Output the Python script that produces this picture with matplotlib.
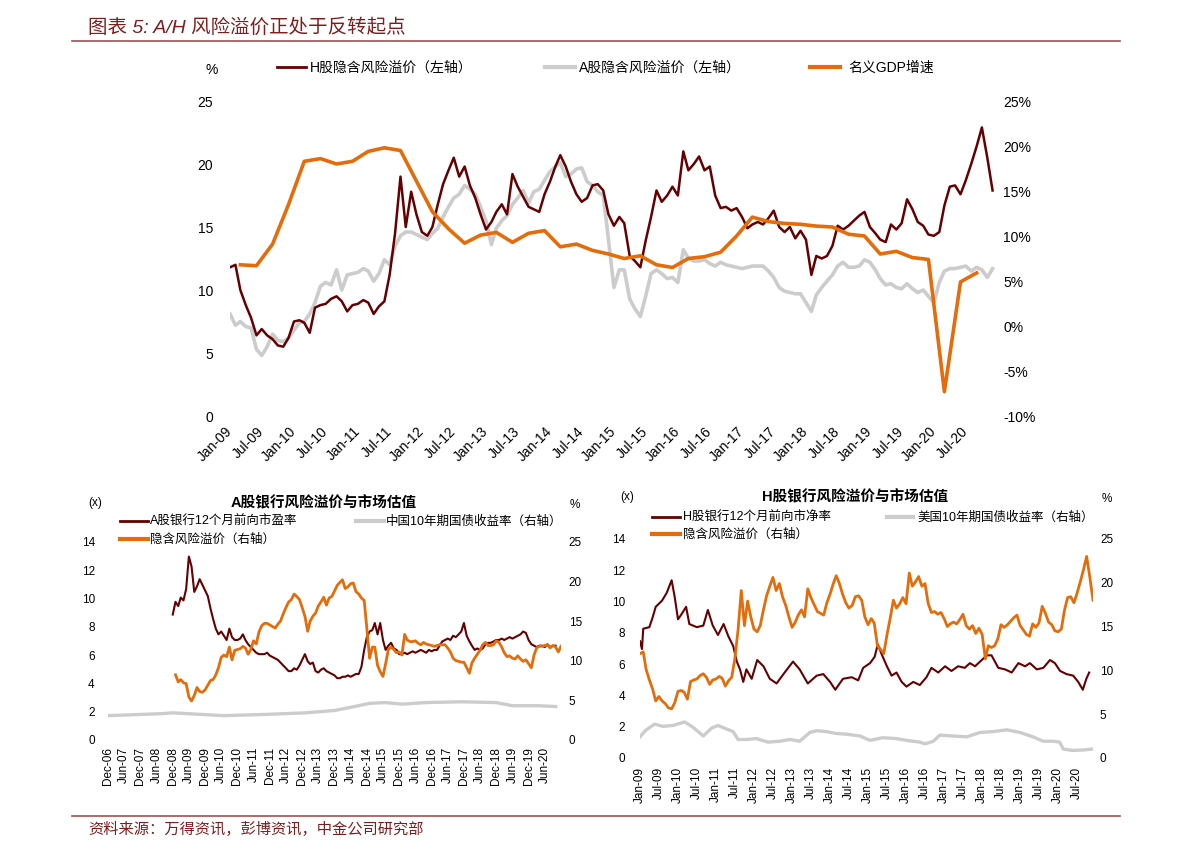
import matplotlib
matplotlib.use("Agg")
import matplotlib.pyplot as plt
from matplotlib.lines import Line2D
import pandas as pd

plt.rcParams["font.family"] = ["Liberation Sans", "Noto Sans CJK SC"]

# ---- data ----
# monthly, Jan-2009 .. Dec-2020 (top chart, reused in the two lower charts)
h_premium = [
    11.8, 12.0, 10.0, 8.8, 7.8, 6.4, 6.9, 6.4, 6.1, 5.6,
    5.5, 6.2, 7.5, 7.6, 7.4, 6.6, 8.6, 8.8, 8.9, 9.3,
    9.5, 9.1, 8.3, 8.8, 8.9, 9.2, 9.0, 8.1, 8.7, 9.1,
    11.2, 14.5, 19.0, 15.0, 17.8, 16.0, 14.6, 14.3, 15.0, 16.8,
    18.4, 19.5, 20.5, 19.0, 19.8, 18.3, 17.3, 16.0, 14.8, 15.4,
    16.2, 16.8, 16.0, 19.2, 18.2, 17.4, 16.6, 16.4, 16.2, 17.6,
    18.6, 19.8, 20.7, 19.8, 18.6, 17.6, 17.0, 17.3, 18.3, 18.4,
    17.9, 16.0, 15.1, 15.8, 15.3, 12.7, 12.3, 11.8, 13.9, 15.8,
    17.9, 17.0, 17.5, 18.2, 17.5, 21.0, 19.5, 20.0, 20.6, 19.5,
    19.8, 17.5, 16.5, 16.6, 16.3, 16.5, 15.8, 14.9, 15.2, 15.4,
    15.2, 15.7, 16.3, 15.0, 14.6, 15.0, 14.1, 14.7, 14.0, 11.2,
    12.7, 12.5, 12.7, 13.5, 15.1, 14.8, 15.1, 15.5, 15.9, 16.2,
    15.0, 14.5, 14.0, 13.8, 15.2, 14.8, 15.3, 17.2, 16.4, 15.4,
    15.1, 14.4, 14.3, 14.6, 16.7, 18.2, 18.3, 17.6, 18.7, 20.0,
    21.4, 22.9, 20.5, 17.9,
]
a_premium = [
    8.1, 7.2, 7.5, 7.1, 7.0, 5.3, 4.8, 5.5, 6.5, 6.0,
    5.9, 6.2, 6.8, 7.4, 7.5, 8.1, 9.0, 10.3, 10.6, 10.4,
    11.6, 10.0, 11.2, 11.3, 11.4, 11.7, 11.5, 10.7, 11.3, 12.4,
    12.0, 13.5, 14.3, 14.6, 14.6, 14.4, 14.2, 14.0, 14.5, 14.9,
    15.8, 16.6, 17.3, 17.6, 18.3, 18.0, 17.6, 16.6, 15.5, 13.6,
    14.9, 15.5, 15.9, 16.8, 17.3, 17.9, 16.9, 17.8, 18.0, 18.7,
    19.4, 19.8, 20.1, 19.0, 19.2, 19.6, 19.7, 18.6, 18.3, 17.8,
    17.5, 14.0, 10.2, 11.6, 11.6, 9.3, 8.5, 7.9, 9.5, 11.3,
    11.6, 11.3, 10.9, 11.0, 10.6, 13.2, 12.5, 12.3, 12.3, 12.4,
    12.1, 11.9, 12.2, 12.0, 11.9, 11.8, 11.7, 11.8, 11.9, 11.9,
    11.9, 11.5, 11.0, 10.2, 9.9, 9.8, 9.7, 9.7, 9.0, 8.3,
    9.6, 10.2, 10.7, 11.2, 11.9, 12.2, 11.8, 11.8, 11.9, 12.4,
    12.2, 11.6, 10.9, 10.4, 10.5, 10.2, 10.1, 10.5, 10.1, 9.8,
    10.0, 9.5, 9.0, 10.6, 11.5, 11.7, 11.7, 11.8, 11.9, 11.5,
    11.8, 11.6, 11.0, 11.7,
]
months = pd.date_range("2009-01-01", periods=len(h_premium), freq="MS")

# quarterly nominal GDP growth, Q1-2009 .. Q3-2020 (%)
gdp_growth = [
    6.8, 6.7, 9.1, 13.5, 18.3, 18.6, 18.0, 18.3, 19.4, 19.8,
    19.5, 16.1, 12.7, 10.8, 9.2, 10.1, 10.4, 9.3, 10.3, 10.6,
    8.8, 9.1, 8.4, 8.0, 7.5, 7.8, 6.8, 6.5, 7.5, 7.7,
    8.2, 10.0, 12.1, 11.6, 11.4, 11.3, 11.1, 11.0, 10.2, 10.0,
    8.0, 8.3, 7.6, 7.4, -7.3, 4.9, 5.9,
]
gdp_quarters = pd.date_range("2009-03-01", periods=len(gdp_growth), freq="3MS")

# A-share banks 12m forward P/E, monthly from Dec-2008
bank_pe_a = [
    8.8, 9.7, 9.4, 10.0, 9.8, 10.6, 12.9, 12.2, 10.4, 10.8,
    11.3, 10.9, 10.5, 10.1, 9.2, 8.5, 7.8, 7.4, 7.6, 7.3,
    7.0, 7.8, 7.2, 7.0, 7.0, 7.1, 7.4, 7.0, 6.7, 6.5,
    6.3, 6.1, 6.0, 6.0, 6.0, 6.1, 5.9, 5.8, 5.7, 5.6,
    5.4, 5.2, 5.0, 4.8, 4.8, 5.0, 4.9, 5.2, 5.6, 6.0,
    5.5, 5.3, 5.4, 4.8, 4.7, 4.9, 5.0, 4.8, 4.7, 4.6,
    4.5, 4.3, 4.3, 4.4, 4.4, 4.5, 4.4, 4.5, 4.6, 4.6,
    5.1, 6.3, 7.2, 7.6, 7.7, 8.2, 7.4, 8.2, 7.0, 6.3,
    6.6, 6.8, 6.4, 6.3, 6.0, 6.0, 6.1, 6.0, 6.1, 6.2,
    6.1, 6.2, 6.3, 6.2, 6.1, 6.3, 6.2, 6.3, 6.3, 6.6,
    6.9, 7.0, 7.1, 7.0, 7.3, 7.2, 7.4, 7.6, 8.2, 7.3,
    6.9, 6.6, 6.3, 6.4, 6.3, 6.4, 6.7, 6.8, 6.8, 6.9,
    7.0, 7.0, 7.1, 7.0, 7.1, 7.2, 7.1, 7.2, 7.3, 7.4,
    7.6, 7.5, 7.0, 6.7, 6.6, 6.5, 6.6, 6.6, 6.5, 6.7,
    6.5, 6.6, 6.6,
]
bank_pe_dates = pd.date_range("2008-12-01", periods=len(bank_pe_a), freq="MS")

# China 10y government bond yield (right axis)
cn10y_dates = pd.to_datetime([
    "2006-12-01", "2008-08-01", "2008-12-01", "2010-07-01", "2011-10-01",
    "2013-01-01", "2013-12-01", "2014-06-01", "2015-01-01", "2015-07-01",
    "2016-01-01", "2016-10-01", "2017-11-01", "2018-12-01", "2019-06-01",
    "2020-04-01", "2020-10-01",
])
cn10y = [2.95, 3.2, 3.3, 2.95, 3.1, 3.3, 3.6, 4.0, 4.5, 4.6,
         4.4, 4.6, 4.7, 4.6, 4.2, 4.2, 4.1]

# H-share banks 12m forward ratio (left axis)
bank_h_dates = pd.to_datetime([
    "2009-01-01", "2009-01-20", "2009-02-01", "2009-04-01", "2009-05-01",
    "2009-06-01", "2009-08-01", "2009-09-15", "2009-11-01", "2009-12-01",
    "2010-01-01", "2010-02-01", "2010-03-20", "2010-04-20", "2010-07-01",
    "2010-09-01", "2010-10-15", "2010-12-01", "2011-01-20", "2011-03-15",
    "2011-05-01", "2011-06-15", "2011-07-20", "2011-08-20", "2011-09-20",
    "2011-10-20", "2011-12-10", "2012-02-01", "2012-04-01", "2012-06-01",
    "2012-08-05", "2012-10-10", "2013-01-10", "2013-03-15", "2013-06-01",
    "2013-08-25", "2013-10-28", "2014-01-01", "2014-02-20", "2014-05-05",
    "2014-07-28", "2014-09-28", "2014-11-15", "2015-01-20", "2015-03-05",
    "2015-04-05", "2015-05-10", "2015-07-01", "2015-08-15", "2015-10-01",
    "2015-11-20", "2016-01-05", "2016-03-10", "2016-05-12", "2016-07-15",
    "2016-09-01", "2016-11-05", "2017-01-10", "2017-03-12", "2017-05-15",
    "2017-07-18", "2017-09-05", "2017-10-25", "2017-12-28", "2018-02-15",
    "2018-04-01", "2018-06-05", "2018-08-10", "2018-10-12", "2018-12-15",
    "2019-02-18", "2019-04-05", "2019-06-10", "2019-08-12", "2019-10-15",
    "2019-12-01", "2020-01-20", "2020-03-22", "2020-05-25", "2020-07-12",
    "2020-08-25", "2020-09-28", "2020-10-25",
])
bank_h = [
    7.4, 6.9, 8.2, 8.3, 8.9, 9.6, 10.0, 10.5, 11.3, 10.2,
    8.8, 9.1, 9.6, 8.5, 8.3, 8.4, 9.4, 8.4, 7.8, 8.5,
    7.7, 7.1, 6.1, 5.6, 4.8, 5.6, 5.0, 6.2, 5.8, 5.0,
    4.7, 5.3, 6.1, 5.6, 4.7, 5.2, 5.3, 4.8, 4.3, 5.0,
    5.1, 4.9, 5.7, 6.0, 6.4, 7.2, 6.6, 5.8, 5.2, 5.4,
    4.8, 4.5, 4.8, 4.6, 5.1, 5.7, 5.4, 5.8, 5.5, 5.8,
    5.7, 6.0, 5.8, 6.2, 6.5, 6.5, 5.7, 5.6, 5.4, 6.0,
    5.8, 6.0, 5.6, 5.7, 6.2, 6.0, 5.5, 5.3, 5.2, 4.8,
    4.3, 5.0, 5.4,
]

# US 10y treasury yield (right axis)
us10y_dates = pd.to_datetime([
    "2009-01-01", "2009-02-20", "2009-05-20", "2009-08-10", "2009-11-15",
    "2010-03-05", "2010-05-25", "2010-09-01", "2010-11-20", "2011-01-20",
    "2011-04-12", "2011-06-15", "2011-08-01", "2011-10-20", "2012-01-25",
    "2012-05-15", "2012-09-05", "2012-12-12", "2013-03-15", "2013-06-20",
    "2013-08-25", "2013-11-28", "2014-02-20", "2014-06-10", "2014-10-15",
    "2015-01-20", "2015-05-20", "2015-10-01", "2016-01-05", "2016-05-12",
    "2016-07-01", "2016-09-20", "2016-11-20", "2017-03-25", "2017-08-05",
    "2017-12-12", "2018-04-15", "2018-08-28", "2018-12-31", "2019-05-05",
    "2019-08-10", "2019-11-12", "2020-01-15", "2020-02-20", "2020-05-20",
    "2020-08-30", "2020-11-15",
])
us10y = [
    2.3, 3.0, 3.75, 3.5, 3.6, 4.0, 3.4, 2.4, 3.3, 3.6,
    3.2, 2.9, 2.0, 2.0, 2.1, 1.7, 1.8, 2.0, 1.8, 2.8,
    3.0, 2.9, 2.7, 2.6, 2.4, 1.9, 2.2, 2.1, 1.9, 1.7,
    1.5, 1.8, 2.5, 2.4, 2.3, 2.8, 2.9, 3.1, 2.8, 2.3,
    1.8, 1.8, 1.7, 0.9, 0.75, 0.8, 0.9,
]

# ---- styling ----
W, H = 1191, 854
MAROON = "#660000"
GRAY = "#CCCCCC"
ORANGE = "#E46C0A"
TITLE_RED = "#7F1D1D"
RULE_RED = "#A0504F"

fig = plt.figure(figsize=(W / 100, H / 100), dpi=100)


def frame(l, t, r, b):
    """axes box from pixel edges"""
    return [l / W, 1 - b / H, (r - l) / W, (b - t) / H]


def put_text(x, y, s, **kw):
    kw.setdefault("va", "center")
    fig.text(x / W, 1 - y / H, s, **kw)


def put_line(x0, x1, y, **kw):
    fig.add_artist(Line2D([x0 / W, x1 / W], [1 - y / H] * 2,
                          transform=fig.transFigure, **kw))


def clean(ax):
    for s in ax.spines.values():
        s.set_visible(False)
    ax.tick_params(length=0)
    ax.patch.set_visible(False)


def date_labels(ax, ticks, **kw):
    ax.set_xticks(ticks)
    ax.set_xticklabels([t.strftime("%b-%y") for t in ticks], **kw)


# ---- header / footer ----
put_text(88, 28, "图表 5: A/H 风险溢价正处于反转起点", fontsize=14,
         style="italic", color=TITLE_RED)
put_line(72, 1120, 42, color=RULE_RED, lw=1.2)
put_line(72, 1120, 817, color=RULE_RED, lw=1.2)
put_text(88, 829, "资料来源：万得资讯，彭博资讯，中金公司研究部", fontsize=11,
         style="italic", color=TITLE_RED)

# ---- top chart ----
ax = fig.add_axes(frame(230, 102, 998, 417))
ax.plot(months, a_premium, color=GRAY, lw=2.6)
ax.plot(months, h_premium, color=MAROON, lw=1.8)
ax.set_xlim(pd.Timestamp("2009-01-01"), pd.Timestamp("2021-01-01"))
ax.set_ylim(0, 25)
ax.set_yticks(range(0, 26, 5))
ax.tick_params(axis="y", pad=12, labelsize=10)
date_labels(ax, pd.date_range("2009-01-01", "2020-07-01", freq="6MS"),
            rotation=45, ha="right", va="center", rotation_mode="anchor",
            fontsize=10)
ax.tick_params(axis="x", pad=9)
clean(ax)

ax2 = ax.twinx()
ax2.plot(gdp_quarters, gdp_growth, color=ORANGE, lw=2.6)
ax2.set_ylim(-10, 25)
ax2.set_yticks(range(-10, 26, 5))
ax2.set_yticklabels([f"{v}%" for v in range(-10, 26, 5)])
ax2.tick_params(axis="y", pad=3.6, labelsize=10)
clean(ax2)

put_text(212, 70, "%", fontsize=10, ha="center")
put_line(277, 306, 68, color=MAROON, lw=2)
put_text(310, 68, "H股隐含风险溢价（左轴）", fontsize=10)
put_line(545, 575, 68, color=GRAY, lw=3)
put_text(579, 68, "A股隐含风险溢价（左轴）", fontsize=10)
put_line(810, 840, 68, color=ORANGE, lw=3)
put_text(848, 68, "名义GDP增速", fontsize=10)

# ---- bottom left ----
bl = fig.add_axes(frame(108, 542, 561, 740))
bl.plot(bank_pe_dates, bank_pe_a, color=MAROON, lw=1.5)
bl.set_xlim(pd.Timestamp("2006-12-01"), pd.Timestamp("2020-12-01"))
bl.set_ylim(0, 14)
bl.set_yticks(range(0, 15, 2))
bl.tick_params(axis="y", pad=9.5, labelsize=8.5)
date_labels(bl, pd.date_range("2006-12-01", "2020-06-01", freq="6MS"),
            rotation=90, fontsize=8.5)
bl.tick_params(axis="x", pad=5)
clean(bl)

bl2 = bl.twinx()
bl2.plot(cn10y_dates, cn10y, color=GRAY, lw=2.4)
bl2.plot(months, a_premium, color=ORANGE, lw=2.0)
bl2.set_ylim(0, 25)
bl2.set_yticks(range(0, 26, 5))
bl2.tick_params(axis="y", pad=5.5, labelsize=8.5)
clean(bl2)

put_text(95, 503, "(x)", fontsize=8.5, ha="center")
put_text(324, 503, "A股银行风险溢价与市场估值", fontsize=10.5,
         fontweight="bold", ha="center")
put_text(575, 505, "%", fontsize=8.5, ha="center")
put_line(120, 148, 522, color=MAROON, lw=2)
put_text(150, 522, "A股银行12个月前向市盈率", fontsize=9)
put_line(356, 384, 522, color=GRAY, lw=3)
put_text(386, 522, "中国10年期国债收益率（右轴）", fontsize=9)
put_line(120, 148, 540, color=ORANGE, lw=3)
put_text(150, 540, "隐含风险溢价（右轴）", fontsize=9)

# ---- bottom right ----
br = fig.add_axes(frame(640, 539, 1093, 758))
br.plot(bank_h_dates, bank_h, color=MAROON, lw=1.5)
br.set_xlim(pd.Timestamp("2009-01-01"), pd.Timestamp("2020-12-01"))
br.set_ylim(0, 14)
br.set_yticks(range(0, 15, 2))
br.tick_params(axis="y", pad=10.8, labelsize=8.5)
date_labels(br, pd.date_range("2009-01-01", "2020-07-01", freq="6MS"),
            rotation=90, fontsize=8.5)
br.tick_params(axis="x", pad=6.5)
clean(br)

br2 = br.twinx()
br2.plot(us10y_dates, us10y, color=GRAY, lw=2.4)
br2.plot(months, h_premium, color=ORANGE, lw=2.0)
br2.set_ylim(0, 25)
br2.set_yticks(range(0, 26, 5))
br2.tick_params(axis="y", pad=5, labelsize=8.5)
clean(br2)

put_text(627, 497, "(x)", fontsize=8.5, ha="center")
put_text(855, 497, "H股银行风险溢价与市场估值", fontsize=10.5,
         fontweight="bold", ha="center")
put_text(1107, 499, "%", fontsize=8.5, ha="center")
put_line(652, 680, 518, color=MAROON, lw=2)
put_text(683, 518, "H股银行12个月前向市净率", fontsize=9)
put_line(887, 913, 518, color=GRAY, lw=3)
put_text(917, 518, "美国10年期国债收益率（右轴）", fontsize=9)
put_line(652, 680, 535, color=ORANGE, lw=3)
put_text(683, 535, "隐含风险溢价（右轴）", fontsize=9)

fig.savefig("out.png", dpi=100)
